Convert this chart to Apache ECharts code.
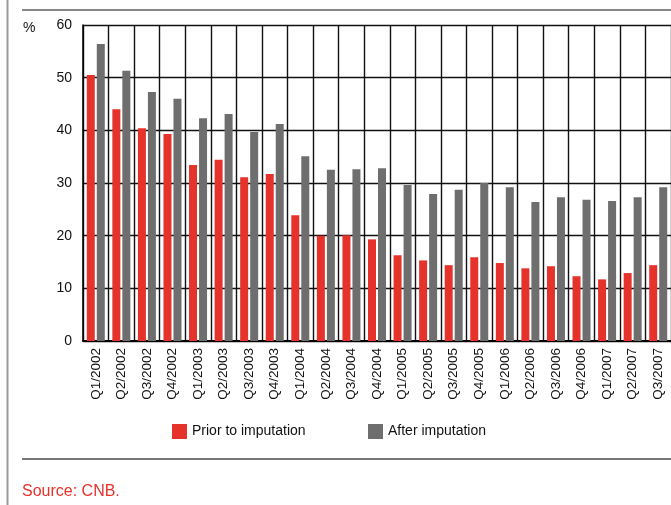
<!DOCTYPE html>
<html>
<head>
<meta charset="utf-8">
<script src="https://cdn.jsdelivr.net/npm/echarts@6/dist/echarts.min.js"></script>
<style>
  html, body { margin: 0; padding: 0; background: #fff; }
  #chart { width: 671px; height: 505px; }
</style>
</head>
<body>
<div id="chart"></div>
<script>
// Quarterly share (%) before and after imputation
const quarters = [
  'Q1/2002', 'Q2/2002', 'Q3/2002', 'Q4/2002',
  'Q1/2003', 'Q2/2003', 'Q3/2003', 'Q4/2003',
  'Q1/2004', 'Q2/2004', 'Q3/2004', 'Q4/2004',
  'Q1/2005', 'Q2/2005', 'Q3/2005', 'Q4/2005',
  'Q1/2006', 'Q2/2006', 'Q3/2006', 'Q4/2006',
  'Q1/2007', 'Q2/2007', 'Q3/2007'
];
const priorToImputation = [
  50.5, 44.0, 40.4, 39.3,
  33.4, 34.4, 31.1, 31.7,
  23.9, 20.0, 20.1, 19.3,
  16.3, 15.3, 14.4, 15.9,
  14.8, 13.8, 14.2, 12.3,
  11.7, 12.9, 14.4
];
const afterImputation = [
  56.4, 51.3, 47.3, 46.0,
  42.3, 43.1, 39.7, 41.2,
  35.1, 32.5, 32.6, 32.8,
  29.6, 27.9, 28.7, 30.0,
  29.2, 26.4, 27.3, 26.8,
  26.6, 27.3, 29.2
];
const yTicks = { min: 0, max: 60, step: 10 };

const RED = '#e5322b';
const GREY = '#6e6e6e';
const SANS = '"Liberation Sans", Arial, Helvetica, sans-serif';

const chart = echarts.init(document.getElementById('chart'), null, { renderer: 'canvas' });

// one legend per series so each key sits at its own spot
function legendAt(left, name) {
  return {
    left: left,
    top: 424,
    padding: 0,
    icon: 'rect',
    itemWidth: 15,
    itemHeight: 15,
    itemGap: 0,
    textStyle: { fontFamily: SANS, fontSize: 14, color: '#111' },
    data: [name]
  };
}

chart.setOption({
  animation: false,
  backgroundColor: '#fff',
  grid: { left: 83, top: 25, width: 591, height: 316, containLabel: false },
  legend: [
    legendAt(172, 'Prior to imputation'),
    legendAt(368, 'After imputation')
  ],
  xAxis: {
    type: 'category',
    data: quarters,
    boundaryGap: true,
    axisLine: { show: true, lineStyle: { color: '#000', width: 2 } },
    axisTick: { show: false },
    splitLine: { show: true, lineStyle: { color: '#111', width: 1.4 } },
    axisLabel: {
      rotate: 90,
      margin: 7,
      fontFamily: SANS,
      fontSize: 13.5,
      color: '#111'
    }
  },
  yAxis: {
    type: 'value',
    min: yTicks.min,
    max: yTicks.max,
    interval: yTicks.step,
    axisLine: { show: true, lineStyle: { color: '#000', width: 1.5 } },
    axisTick: { show: false },
    splitLine: { show: true, lineStyle: { color: '#111', width: 1.4 } },
    axisLabel: {
      margin: 11,
      fontFamily: SANS,
      fontSize: 14,
      color: '#111'
    }
  },
  series: [
    {
      name: 'Prior to imputation',
      type: 'bar',
      data: priorToImputation,
      barWidth: 8,
      barGap: '25%',
      itemStyle: { color: RED }
    },
    {
      name: 'After imputation',
      type: 'bar',
      data: afterImputation,
      barWidth: 8,
      itemStyle: { color: GREY }
    }
  ],
  graphic: [
    // frame lines
    { type: 'line', shape: { x1: 7.5, y1: 0, x2: 7.5, y2: 505 }, style: { stroke: '#9a9a9a', lineWidth: 2 } },
    { type: 'line', shape: { x1: 22, y1: 10, x2: 671, y2: 10 }, style: { stroke: '#888', lineWidth: 2 } },
    { type: 'line', shape: { x1: 22, y1: 459, x2: 671, y2: 459 }, style: { stroke: '#777', lineWidth: 2 } },
    // unit label
    { type: 'text', left: 23, top: 21, style: { text: '%', fontFamily: SANS, fontSize: 14, fill: '#111' } },
    // source note
    { type: 'text', left: 22, top: 484, style: { text: 'Source: CNB.', fontFamily: SANS, fontSize: 16, fill: RED } }
  ]
});
</script>
</body>
</html>
